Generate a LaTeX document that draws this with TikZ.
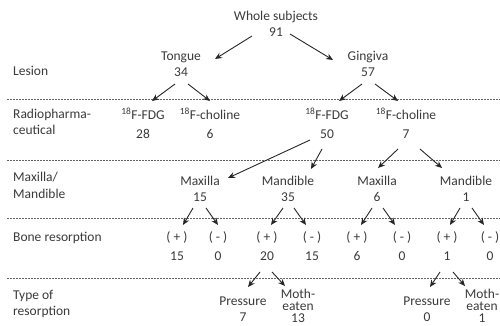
\documentclass[tikz,border=0pt]{standalone}
\usepackage{fontspec}
\setmainfont{Carlito}
\usetikzlibrary{arrows.meta,calc}
\definecolor{txt}{HTML}{3A3A3A}
\definecolor{arrc}{HTML}{262626}
\tikzset{
  lab/.style={inner sep=0pt, text height=9pt, text depth=2.5pt, text=txt, font=\fontsize{13.5}{15}\selectfont},
  side/.style={lab, anchor=west},
  arr/.style={draw=arrc, line width=0.9pt, -{Stealth[length=7pt,width=6pt]}},
  sep/.style={draw=gray!80!black, line width=0.8pt, dash pattern=on 2pt off 1pt},
}
\newcommand{\ef}{\textsuperscript{18}F}
\begin{document}
\begin{tikzpicture}[x=1pt,y=-1pt]
\useasboundingbox (0,0) rectangle (500,325);
\clip (0,0) rectangle (500,325);
% separators
\foreach \yy/\nm in {99/a,160/b,218/c,278/d}{
  \coordinate (s\nm1) at (7,\yy);
  \coordinate (s\nm2) at (500,\yy);
  \draw[sep] (s\nm1) -- (s\nm2);
}
% side labels
\node[side] (lesion) at (13,72) {Lesion};
\node[side] (radA) at (13,115) {Radiopharma-};
\node[side] (radB) at (13,131) {ceutical};
\node[side] (mmA) at (13,178) {Maxilla/};
\node[side] (mmB) at (13,195) {Mandible};
\node[side] (bone) at (13,238) {Bone resorption};
\node[side] (typA) at (13,296) {Type of};
\node[side] (typB) at (13,312) {resorption};
% level 0
\node[lab] (whole) at (276,17) {Whole subjects};
\node[lab] (n91) at (276,33) {91};
% level 1
\node[lab] (tongue) at (181,57) {Tongue};
\node[lab] (n34) at (181,73) {34};
\node[lab] (gingiva) at (368,57) {Gingiva};
\node[lab] (n57) at (368,73) {57};
% level 2
\node[lab] (fdg1) at (143,116) {\ef-FDG};
\node[lab] (n28) at (143,135) {28};
\node[lab] (cho1) at (210,116) {\ef-choline};
\node[lab] (n6a) at (210,135) {6};
\node[lab] (fdg2) at (327,116) {\ef-FDG};
\node[lab] (n50) at (327,135) {50};
\node[lab] (cho2) at (406,116) {\ef-choline};
\node[lab] (n7) at (406,135) {7};
% level 3
\node[lab] (max1) at (200,182) {Maxilla};
\node[lab] (n15) at (200,198) {15};
\node[lab] (mand1) at (288,182) {Mandible};
\node[lab] (n35) at (288,198) {35};
\node[lab] (max2) at (377,182) {Maxilla};
\node[lab] (n6b) at (377,198) {6};
\node[lab] (mand2) at (466,182) {Mandible};
\node[lab] (n1) at (466,198) {1};
% level 4
\node[lab] (p1) at (177,238) {( + )};
\node[lab] (v1) at (177,257) {15};
\node[lab] (m1) at (218,238) {( - )};
\node[lab] (w1) at (218,257) {0};
\node[lab] (p2) at (267,238) {( + )};
\node[lab] (v2) at (267,257) {20};
\node[lab] (m2) at (312,238) {( - )};
\node[lab] (w2) at (312,257) {15};
\node[lab] (p3) at (357,238) {( + )};
\node[lab] (v3) at (357,257) {6};
\node[lab] (m3) at (402,238) {( - )};
\node[lab] (w3) at (402,257) {0};
\node[lab] (p4) at (447,238) {( + )};
\node[lab] (v4) at (447,257) {1};
\node[lab] (m4) at (490,238) {( - )};
\node[lab] (w4) at (490,257) {0};
% level 5
\node[lab] (pres1) at (243,302) {Pressure};
\node[lab] (q1) at (243,318) {7};
\node[lab] (mothA1) at (298,295) {Moth-};
\node[lab] (mothB1) at (298,307) {eaten};
\node[lab] (r1) at (298,319) {13};
\node[lab] (pres2) at (427,302) {Pressure};
\node[lab] (q2) at (427,318) {0};
\node[lab] (mothA2) at (482,295) {Moth-};
\node[lab] (mothB2) at (482,307) {eaten};
\node[lab] (r2) at (482,319) {1};
% arrows
\draw[arr] ($(n91)+(-24,3)$) -- ($(tongue)+(34,2)$);
\draw[arr] ($(n91)+(14,1)$) -- ($(gingiva)+(-35,3)$);
\draw[arr] ($(n34)+(-6,11)$) -- ($(fdg1)+(9,-15)$);
\draw[arr] ($(n34)+(7,11)$) -- ($(cho1)+(0,-15)$);
\draw[arr] ($(n57)+(-6,11)$) -- ($(fdg2)+(12,-15)$);
\draw[arr] ($(n57)+(7,11)$) -- ($(cho2)+(-8,-15)$);
\draw[arr] ($(n50)+(-17,5)$) -- ($(max1)+(28,-4)$);
\draw[arr] ($(n50)+(-5,14)$) -- ($(mand1)+(23,-13)$);
\draw[arr] ($(n7)+(-8,14)$) -- ($(max2)+(1,-14)$);
\draw[arr] ($(n7)+(14,14)$) -- ($(mand2)+(-24,-14)$);
\draw[arr] ($(n15)+(-7,10)$) -- ($(p1)+(6,-13)$);
\draw[arr] ($(n15)+(6,10)$) -- ($(m1)+(0,-13)$);
\draw[arr] ($(n35)+(-5,10)$) -- ($(p2)+(4,-13)$);
\draw[arr] ($(n35)+(6,10)$) -- ($(m2)+(-6,-13)$);
\draw[arr] ($(n6b)+(-5,10)$) -- ($(p3)+(4,-13)$);
\draw[arr] ($(n6b)+(6,10)$) -- ($(m3)+(-7,-13)$);
\draw[arr] ($(n1)+(-6,10)$) -- ($(p4)+(3,-13)$);
\draw[arr] ($(n1)+(6,10)$) -- ($(m4)+(-6,-13)$);
\draw[arr] ($(v2)+(-7,15)$) -- ($(pres1)+(5,-15)$);
\draw[arr] ($(v2)+(5,15)$) -- ($(mothA1)+(-13,-9)$);
\draw[arr] ($(v4)+(-7,15)$) -- ($(pres2)+(3,-15)$);
\draw[arr] ($(v4)+(6,15)$) -- ($(mothA2)+(-17,-9)$);
\end{tikzpicture}
\end{document}
